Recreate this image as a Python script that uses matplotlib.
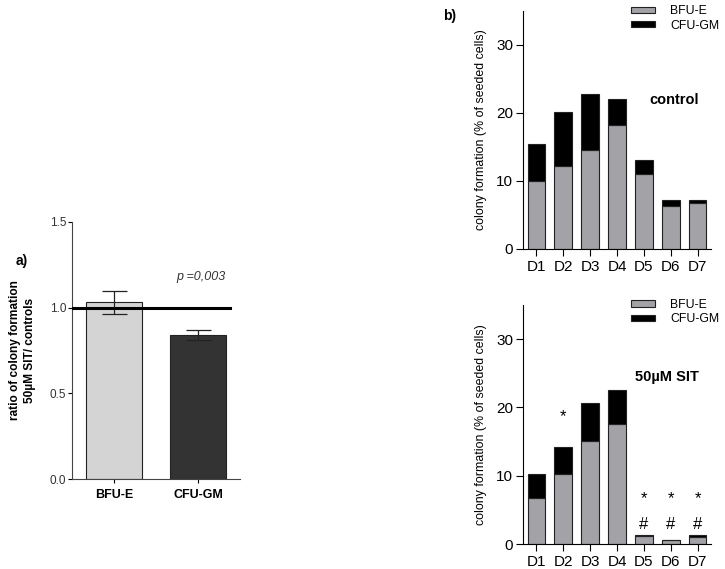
import matplotlib.pyplot as plt
import numpy as np

plt.rcParams['font.family'] = ['Liberation Sans', 'DejaVu Sans']

# panel a: ratio SIT / control
ratio_labels = ["BFU-E", "CFU-GM"]
ratio_means = [1.03, 0.84]
ratio_err = [0.065, 0.03]
ratio_colors = ["#d4d4d4", "#333333"]

# panel b: colony formation per donor
days = ["D1", "D2", "D3", "D4", "D5", "D6", "D7"]
ctrl_bfu = [10.0, 12.2, 14.5, 18.3, 11.1, 6.3, 6.8]
ctrl_total = [15.4, 20.1, 22.8, 22.0, 13.1, 7.2, 7.2]
sit_bfu = [6.8, 10.3, 15.1, 17.6, 1.2, 0.6, 1.0]
sit_total = [10.3, 14.2, 20.6, 22.6, 1.3, 0.6, 1.3]
star_idx = [1, 4, 5, 6]
star_y = [18.6, 6.6, 6.6, 6.6]
hash_idx = [4, 5, 6]
hash_y = [2.8, 2.8, 2.8]

fig = plt.figure(figsize=(7.25, 5.69), dpi=100)

# ---- panel a
ax = fig.add_axes([0.0993, 0.158, 0.232, 0.452])
x = np.arange(len(ratio_labels))
ax.bar(x, ratio_means, width=0.667, color=ratio_colors, edgecolor="#222222", linewidth=0.8, zorder=2)
ax.errorbar(x, ratio_means, yerr=ratio_err, fmt="none", ecolor="#222222", elinewidth=0.9, capsize=9, capthick=0.9, zorder=3)
ax.plot([-0.5, 1.38], [1.0, 1.0], color="black", lw=2.2, zorder=4)
ax.set_xlim(-0.5, 1.5)
ax.set_ylim(0, 1.5)
ax.set_yticks([0, 0.5, 1.0, 1.5])
ax.set_yticklabels(["0.0", "0.5", "1.0", "1.5"], fontsize=8.5, color="#333333")
ax.set_xticks(x)
ax.set_xticklabels(ratio_labels, fontsize=9, fontweight="bold")
ax.tick_params(axis="y", direction="out", length=3, width=0.8, pad=1)
ax.tick_params(axis="x", direction="out", length=3, width=0.8, pad=4)
for s in ["top", "right"]:
    ax.spines[s].set_visible(False)
for s in ["left", "bottom"]:
    ax.spines[s].set_color("#444444")
    ax.spines[s].set_linewidth(0.8)
ax.set_ylabel("ratio of colony formation\n50µM SIT/ controls", fontsize=8.6, fontweight="bold",
              labelpad=10, linespacing=1.35)
ax.text(0.74, 1.18, "p =0,003", style="italic", fontsize=9, color="#333333", va="center")
fig.text(0.022, 0.535, "a)", fontsize=10, fontweight="bold")


def stacked(ax, bfu, total, name, name_y, leg_top):
    xx = np.arange(len(days))
    cfu = [t - b for t, b in zip(total, bfu)]
    ax.bar(xx, bfu, width=0.66, color="#a3a3a7", edgecolor="#222222", linewidth=0.8, label="BFU-E")
    ax.bar(xx, cfu, bottom=bfu, width=0.66, color="black", edgecolor="#222222", linewidth=0.8, label="CFU-GM")
    ax.set_xlim(-0.5, 6.5)
    ax.set_ylim(0, 35)
    ax.set_yticks([0, 10, 20, 30])
    ax.set_xticks(xx)
    ax.set_xticklabels(days, fontsize=11)
    ax.tick_params(axis="y", labelsize=11, direction="out", length=5, width=0.8, pad=2)
    ax.tick_params(axis="x", direction="out", length=5, width=0.8, pad=3)
    for s in ["top", "right"]:
        ax.spines[s].set_visible(False)
    ax.set_ylabel("colony formation (% of seeded cells)", fontsize=8.9, labelpad=7)
    ax.text(0.936, name_y, name, transform=ax.transAxes,
            fontsize=10.5, fontweight="bold", ha="right", va="center")
    ax.legend(loc="upper left", bbox_to_anchor=(0.857, leg_top), bbox_transform=fig.transFigure,
              frameon=False, fontsize=8.8, handlelength=1.95, handleheight=0.4,
              handletextpad=1.25, labelspacing=0.2, borderaxespad=0.4)


# ---- panel b top
bt = fig.add_axes([0.7214, 0.5624, 0.2593, 0.4183])
stacked(bt, ctrl_bfu, ctrl_total, "control", 0.626, 1.008)
fig.text(0.611, 0.965, "b)", fontsize=10, fontweight="bold")

# ---- panel b bottom
bb = fig.add_axes([0.7214, 0.0439, 0.2593, 0.420])
stacked(bb, sit_bfu, sit_total, "50µM SIT", 0.70, 0.492)
for i, yv in zip(star_idx, star_y):
    bb.text(i, yv, "*", ha="center", va="center", fontsize=12)
for i, yv in zip(hash_idx, hash_y):
    bb.text(i, yv, "#", ha="center", va="center", fontsize=12)

fig.savefig("out.png", dpi=100)
